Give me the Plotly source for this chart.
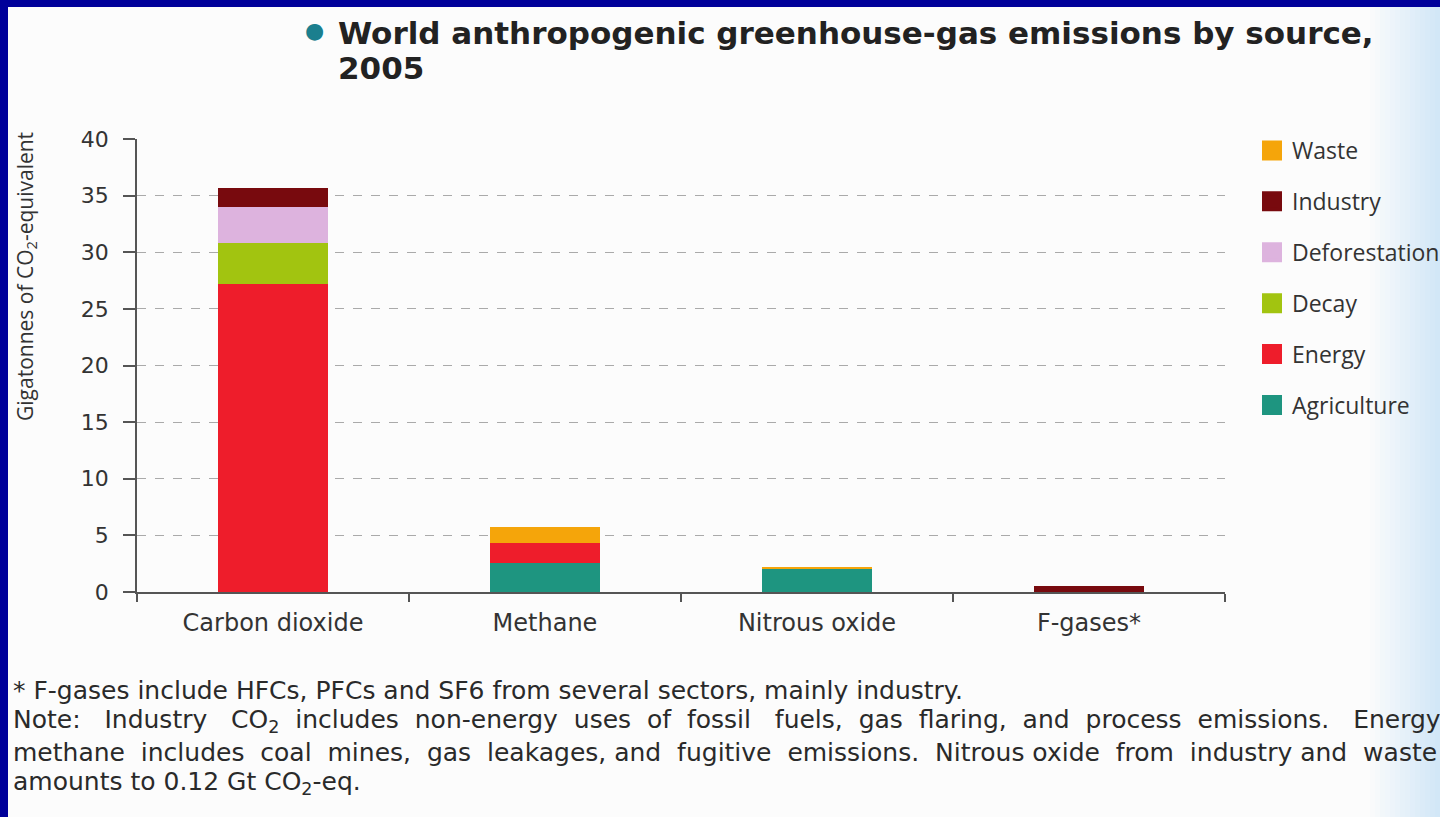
import plotly.graph_objects as go

# Gas categories along the x axis
categories = ["Carbon dioxide", "Methane", "Nitrous oxide", "F-gases*"]

# Emissions by source, Gt CO2-equivalent (stacked bottom-up in this order)
agriculture = [0, 2.6, 2.1, 0]
energy = [27.2, 1.7, 0, 0]
decay = [3.6, 0, 0, 0]
deforestation = [3.2, 0, 0, 0]
industry = [1.7, 0, 0, 0.5]
waste = [0, 1.4, 0.1, 0]

y_ticks = [0, 5, 10, 15, 20, 25, 30, 35, 40]

series = [
    ("Agriculture", agriculture, "#1E9580"),
    ("Energy", energy, "#EE1D2B"),
    ("Decay", decay, "#A2C410"),
    ("Deforestation", deforestation, "#DDB3DE"),
    ("Industry", industry, "#780A0E"),
    ("Waste", waste, "#F5A50A"),
]
legend_order = ["Waste", "Industry", "Deforestation", "Decay", "Energy", "Agriculture"]

W, H = 1440, 817


def px(x):
    return x / W


def py(y):
    return 1 - y / H


fig = go.Figure()
for name, vals, color in series:
    fig.add_trace(go.Bar(
        x=categories, y=vals, name=name, marker=dict(color=color, line=dict(width=0)),
        showlegend=False,
    ))

# Legend entries with larger square swatches
colour_of = {n: c for n, _, c in series}
for name in legend_order:
    fig.add_trace(go.Scatter(
        x=[None], y=[None], mode="markers", name=name, legendgroup=name,
        marker=dict(symbol="square", size=16, color=colour_of[name],
                    line=dict(width=4, color=colour_of[name])),
    ))

text_col = "#333333"
font_open = "Open Sans, Noto Sans, sans-serif"
font_wide = "DejaVu Sans, Verdana, sans-serif"

shapes = [
    dict(type="rect", xref="paper", yref="paper", x0=px(8), x1=1, y0=0, y1=py(7),
         fillcolor="#FCFCFC", line=dict(width=0), layer="below"),
]
# soft bluish edge on the right side of the page
n_strips = 14
for i in range(n_strips):
    a = (i + 1) / n_strips
    shapes.append(dict(
        type="rect", xref="paper", yref="paper",
        x0=px(1370 + i * 5), x1=px(1375 + i * 5), y0=0, y1=py(7),
        fillcolor=f"rgba(205,228,246,{a * 0.9:.3f})", line=dict(width=0), layer="below",
    ))

annotations = [
    dict(text="Gigatonnes of CO<sub>2</sub>-equivalent", x=px(26), y=py(277),
         xref="paper", yref="paper", textangle=-90, showarrow=False,
         xanchor="center", yanchor="middle",
         font=dict(size=21, color=text_col, family=font_open)),
    dict(text="●", x=px(314), y=py(30), xref="paper", yref="paper", showarrow=False,
         xanchor="center", yanchor="middle",
         font=dict(size=22, color="#1B7F8E", family="DejaVu Sans")),
    dict(text="<b>World anthropogenic greenhouse-gas emissions by source,</b>",
         x=px(336), y=py(33), xref="paper", yref="paper", showarrow=False,
         xanchor="left", yanchor="middle", align="left",
         font=dict(size=31, color="#222222", family=font_wide)),
    dict(text="<b>2005</b>",
         x=px(336), y=py(68), xref="paper", yref="paper", showarrow=False,
         xanchor="left", yanchor="middle", align="left",
         font=dict(size=31, color="#222222", family=font_wide)),
]

# Footnotes; the middle lines are spread out like justified text
notes = [
    "* F-gases include HFCs, PFCs and SF6 from several sectors, mainly industry.",
    "Note:   Industry   CO<sub>2</sub>  includes  non-energy  uses  of  fossil   fuels,  gas  flaring,  and  process  emissions.   Energy",
    "methane  includes  coal  mines,  gas  leakages, and  fugitive  emissions.  Nitrous oxide  from  industry and  waste",
    "amounts to 0.12 Gt CO<sub>2</sub>-eq.",
]
note_y = [690, 721, 752, 783]
for t, yy in zip(notes, note_y):
    annotations.append(dict(
        text=t, x=px(11), y=py(yy), xref="paper", yref="paper", showarrow=False,
        xanchor="left", yanchor="middle", align="left",
        font=dict(size=25, color="#2A2A2A", family=font_wide),
    ))

fig.update_layout(
    width=W, height=H,
    margin=dict(l=0, r=0, t=0, b=0, pad=0, autoexpand=False),
    paper_bgcolor="#00009A",
    plot_bgcolor="rgba(0,0,0,0)",
    barmode="stack",
    bargap=0.595,
    font=dict(family=font_wide, color=text_col, size=22),
    showlegend=True,
    legend=dict(
        x=px(1252), y=py(129), xanchor="left", yanchor="top",
        bgcolor="rgba(0,0,0,0)", font=dict(size=23, color=text_col, family=font_open),
        tracegroupgap=18, itemsizing="trace", traceorder="grouped",
    ),
    xaxis=dict(
        domain=[px(137), px(1225)], showgrid=False, zeroline=False, automargin=False,
        showline=True, linecolor="#555555", linewidth=1.5,
        ticks="outside", tickson="boundaries", ticklen=8, tickcolor="#555555", tickwidth=1.5,
        tickfont=dict(size=24, color=text_col, family=font_wide), ticklabelstandoff=8,
        fixedrange=True,
    ),
    yaxis=dict(
        domain=[1 - 592 / H, 1 - 139 / H], range=[0, 40], tickvals=y_ticks, automargin=False,
        showgrid=True, gridcolor="#AAAAAA", griddash="dash", gridwidth=1,
        zeroline=False, showline=True, linecolor="#555555", linewidth=1.5,
        ticks="outside", ticklen=12, tickcolor="#555555", tickwidth=1.5,
        tickfont=dict(size=22, color=text_col, family=font_wide), ticklabelstandoff=10,
        fixedrange=True,
    ),
    shapes=shapes,
    annotations=annotations,
)

fig.write_html("out.html")
